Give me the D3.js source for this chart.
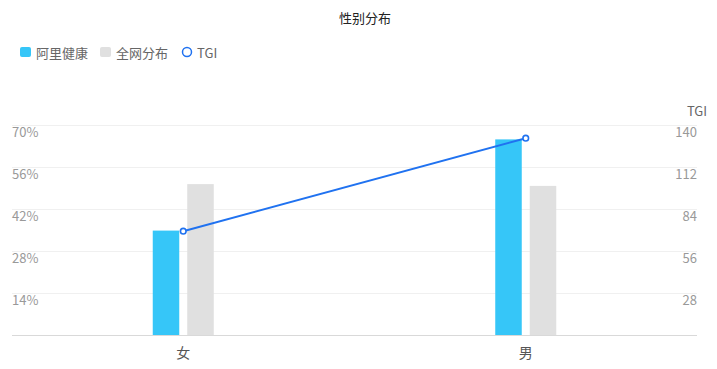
<!DOCTYPE html>
<html><head><meta charset="utf-8">
<script src="https://cdn.jsdelivr.net/npm/d3@7/dist/d3.min.js"></script>
<style>
body{margin:0;background:#fff;}
svg{display:block;font-family:"Noto Sans CJK SC","Noto Sans",sans-serif;}
</style></head>
<body>
<svg id="chart" width="717" height="369"></svg>
<script>
const categories = ["女", "男"];
const aliHealth = [34.8, 65.2];
const allNetwork = [50.3, 49.7];
const tgi = [69.2, 131.2];
const leftTicks = [0, 14, 28, 42, 56, 70];
const rightTicks = [0, 28, 56, 84, 112, 140];
const seriesNames = ["阿里健康", "全网分布", "TGI"];
const title = "性别分布";

(function () {
const svg = d3.select("#chart");
const pLeft = 12, pRight = 697, pTop = 125, pBottom = 335;

const x = d3.scaleBand().domain(categories).range([pLeft, pRight]);
const yL = d3.scaleLinear().domain([0, 70]).range([pBottom, pTop]);
const yR = d3.scaleLinear().domain([0, 140]).range([pBottom, pTop]);

// title
svg.append("text").attr("x", 365).attr("y", 17).attr("text-anchor", "middle")
  .attr("dominant-baseline", "central").attr("font-size", 13).attr("fill", "#222").text(title);

// gridlines
svg.append("g").selectAll("line").data(leftTicks.slice(1)).join("line")
  .attr("x1", pLeft).attr("x2", pRight)
  .attr("y1", d => Math.round(yL(d)) + 0.5).attr("y2", d => Math.round(yL(d)) + 0.5)
  .attr("stroke", "#f0f0f0").attr("stroke-width", 1);
// baseline
svg.append("line").attr("x1", pLeft).attr("x2", pRight)
  .attr("y1", pBottom + 0.5).attr("y2", pBottom + 0.5).attr("stroke", "#d9d9d9");

// left axis labels
const lAxis = d3.axisLeft(yL).tickValues(leftTicks.slice(1)).tickFormat(d => d + "%").tickSize(0).tickPadding(0);
const gL = svg.append("g").attr("transform", `translate(${pLeft},7)`).call(lAxis);
gL.select(".domain").remove();
gL.selectAll("text").attr("text-anchor", "start").attr("x", 0).attr("font-size", 13)
  .attr("fill", "#999").attr("font-family", "'Noto Sans CJK SC',sans-serif");

// right axis labels
const rAxis = d3.axisRight(yR).tickValues(rightTicks.slice(1)).tickSize(0).tickPadding(0);
const gR = svg.append("g").attr("transform", `translate(${pRight},7)`).call(rAxis);
gR.select(".domain").remove();
gR.selectAll("text").attr("text-anchor", "end").attr("x", 0).attr("font-size", 13)
  .attr("fill", "#999").attr("font-family", "'Noto Sans CJK SC',sans-serif");

svg.append("text").attr("x", 697).attr("y", 110).attr("text-anchor", "middle")
  .attr("dominant-baseline", "central").attr("font-size", 13).attr("fill", "#666").text("TGI");

// x axis labels
const xAxis = d3.axisBottom(x).tickSize(0).tickPadding(0);
const gX = svg.append("g").attr("transform", `translate(0,${pBottom})`).call(xAxis);
gX.select(".domain").remove();
gX.selectAll("text").attr("y", 18).attr("dy", "0.35em").attr("font-size", 14)
  .attr("fill", "#555").attr("font-family", "'Noto Sans CJK SC',sans-serif");

// bars
const barW = 26.5, gap = 8;
svg.append("g").selectAll("rect").data(categories).join("rect")
  .attr("x", d => x(d) + x.bandwidth() / 2 - gap / 2 - barW)
  .attr("y", (d, i) => yL(aliHealth[i]))
  .attr("width", barW).attr("height", (d, i) => pBottom - yL(aliHealth[i]))
  .attr("fill", "#36c6f8");
svg.append("g").selectAll("rect").data(categories).join("rect")
  .attr("x", d => x(d) + x.bandwidth() / 2 + gap / 2)
  .attr("y", (d, i) => yL(allNetwork[i]))
  .attr("width", barW).attr("height", (d, i) => pBottom - yL(allNetwork[i]))
  .attr("fill", "#e0e0e0");

// TGI line
const line = d3.line().x((d, i) => x(categories[i]) + x.bandwidth() / 2).y(d => yR(d));
svg.append("path").datum(tgi).attr("d", line).attr("fill", "none")
  .attr("stroke", "#2072f0").attr("stroke-width", 2);
svg.append("g").selectAll("circle").data(tgi).join("circle")
  .attr("cx", (d, i) => x(categories[i]) + x.bandwidth() / 2).attr("cy", d => yR(d))
  .attr("r", 2.8).attr("fill", "#fff").attr("stroke", "#2072f0").attr("stroke-width", 1.6);

// legend
const lg = svg.append("g");
lg.append("rect").attr("x", 20).attr("y", 47).attr("width", 11).attr("height", 10).attr("rx", 2).attr("fill", "#36c6f8");
lg.append("text").attr("x", 36).attr("y", 52).attr("dominant-baseline", "central")
  .attr("font-size", 13).attr("fill", "#666").text(seriesNames[0]);
lg.append("rect").attr("x", 100).attr("y", 47).attr("width", 11).attr("height", 10).attr("rx", 2).attr("fill", "#e0e0e0");
lg.append("text").attr("x", 116).attr("y", 52).attr("dominant-baseline", "central")
  .attr("font-size", 13).attr("fill", "#666").text(seriesNames[1]);
lg.append("circle").attr("cx", 187).attr("cy", 52).attr("r", 4.5).attr("fill", "#fff")
  .attr("stroke", "#2072f0").attr("stroke-width", 1.5);
lg.append("text").attr("x", 197).attr("y", 52).attr("dominant-baseline", "central")
  .attr("font-size", 13).attr("fill", "#666").text(seriesNames[2]);
})();
</script>
</body></html>
